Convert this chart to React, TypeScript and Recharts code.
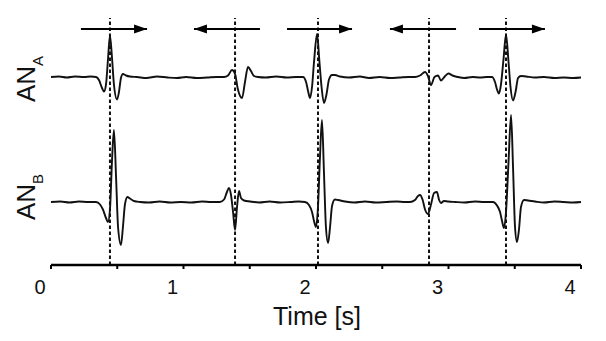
import { LineChart, Line, XAxis, YAxis, ReferenceLine, Customized } from 'recharts';

// time [s] and amplitude (arbitrary units, baseline = 0)
const anaTrace: [number, number][] = [
  [0, 0], [0.06, 0.01], [0.12, -0.01], [0.18, 0.01], [0.25, 0], [0.3, 0.01],
  [0.34, 0], [0.362, -0.06], [0.385, -0.22], [0.4, -0.29], [0.415, -0.15], [0.43, 0.35], [0.445, 0.83],
  [0.46, 0.4], [0.475, -0.15], [0.498, -0.45], [0.513, -0.3], [0.528, -0.02], [0.543, 0.06], [0.566, 0.03], [0.596, 0.01],
  [0.65, 0], [0.72, -0.02], [0.8, 0.01], [0.88, -0.01], [0.95, -0.02], [1.02, 0], [1.1, -0.02], [1.18, -0.01], [1.25, 0],
  [1.306, 0], [1.336, 0.03], [1.366, 0.14], [1.389, 0.06], [1.411, -0.25], [1.442, -0.42], [1.464, -0.1],
  [1.487, 0.2], [1.509, 0.12], [1.532, 0.02], [1.562, 0],
  [1.62, -0.01], [1.7, 0.01], [1.78, -0.01], [1.85, 0],
  [1.902, 0], [1.925, -0.1], [1.94, -0.28], [1.955, -0.42], [1.97, -0.2], [1.985, 0.3], [2.008, 0.86],
  [2.026, 0.3], [2.042, -0.2], [2.06, -0.52], [2.079, -0.35], [2.098, -0.05], [2.121, 0.04], [2.143, 0.04], [2.181, 0.01],
  [2.25, -0.01], [2.33, 0.01], [2.4, -0.02], [2.48, 0], [2.56, -0.02], [2.63, -0.01], [2.7, 0],
  [2.747, 0], [2.785, 0.03], [2.823, 0.1], [2.845, 0.02], [2.868, -0.16], [2.894, 0], [2.921, 0.03],
  [2.943, -0.07], [2.975, 0.02], [3.0, 0.07], [3.03, 0.03], [3.07, 0],
  [3.12, -0.02], [3.18, 0], [3.24, -0.01], [3.29, 0],
  [3.328, 0], [3.351, -0.1], [3.366, -0.25], [3.381, -0.33], [3.396, -0.15], [3.415, 0.35], [3.434, 0.85],
  [3.453, 0.3], [3.468, -0.2], [3.487, -0.47], [3.506, -0.3], [3.525, -0.02], [3.547, 0.02], [3.585, 0.01],
  [3.65, -0.01], [3.72, 0], [3.8, -0.02], [3.87, -0.01], [3.94, -0.02], [4.0, -0.01],
];

const anbTrace: [number, number][] = [
  [0, 0], [0.07, 0.01], [0.14, -0.01], [0.21, 0.01], [0.28, 0],
  [0.34, 0], [0.37, -0.05], [0.392, -0.15], [0.415, -0.32], [0.43, -0.4], [0.445, -0.15], [0.46, 0.8], [0.475, 1.44],
  [0.491, 0.5], [0.506, -0.5], [0.528, -0.86], [0.543, -0.5], [0.558, -0.05], [0.577, 0.1], [0.596, 0.07], [0.626, 0.02], [0.672, 0],
  [0.74, -0.01], [0.82, 0.01], [0.9, -0.01], [0.98, 0], [1.06, -0.01], [1.14, 0.01], [1.21, 0],
  [1.275, 0], [1.306, 0.05], [1.328, 0.2], [1.343, 0.28], [1.358, 0.15], [1.374, -0.2], [1.389, -0.56],
  [1.404, -0.1], [1.419, 0.22], [1.434, 0.08], [1.457, 0.03], [1.502, 0.01],
  [1.57, -0.01], [1.65, 0.01], [1.73, -0.01], [1.81, 0], [1.87, 0.01],
  [1.917, 0], [1.947, -0.06], [1.97, -0.2], [1.985, -0.38], [2.0, -0.5], [2.015, -0.1], [2.03, 0.9], [2.045, 1.64],
  [2.06, 0.6], [2.075, -0.5], [2.091, -0.82], [2.106, -0.5], [2.121, -0.08], [2.143, 0.05], [2.166, 0.04], [2.219, 0.01],
  [2.29, -0.01], [2.37, 0.01], [2.45, -0.01], [2.53, 0], [2.61, 0.01], [2.67, 0],
  [2.709, 0], [2.747, 0.04], [2.77, 0.12], [2.785, 0.14], [2.804, 0.05], [2.823, -0.15], [2.845, -0.24],
  [2.868, -0.05], [2.891, 0.18], [2.913, 0.2], [2.928, 0.05], [2.943, -0.02], [2.966, 0.02], [2.996, 0.01], [3.049, 0],
  [3.12, -0.01], [3.2, 0.01], [3.27, 0],
  [3.336, 0], [3.366, -0.07], [3.389, -0.2], [3.404, -0.38], [3.419, -0.52], [3.434, -0.2], [3.453, 0.8], [3.472, 1.74],
  [3.487, 0.7], [3.502, -0.5], [3.517, -0.8], [3.532, -0.55], [3.547, -0.1], [3.57, 0.04], [3.6, 0.03], [3.653, 0.01],
  [3.72, -0.01], [3.8, 0.01], [3.87, 0], [3.94, -0.01], [4.0, 0],
];

const ANA_OFFSET = 2.5;

// stimulus times (dashed markers)
const eventTimes = [0.445, 1.389, 2.015, 2.853, 3.434];

// direction arrows: tail -> head
const arrowTails = [0.226, 1.577, 1.781, 3.057, 3.23];
const arrowHeads = [0.725, 1.079, 2.272, 2.558, 3.728];
const ARROW_LEVEL = 3.46;

const xTicks = [0, 0.5, 1, 1.5, 2, 2.5, 3, 3.5, 4];

const FONT = '"Liberation Sans", Arial, sans-serif';

const anaData = anaTrace.map(([t, v]) => ({ t, v: v + ANA_OFFSET }));
const anbData = anbTrace.map(([t, v]) => ({ t, v }));

const TimeTick = ({ x, y, payload }: any) => {
  if (!Number.isInteger(payload.value)) return <g />;
  return (
    <text x={x - 11} y={y + 25} textAnchor="middle" fontSize={20} fontFamily={FONT} fill="#111">
      {payload.value}
    </text>
  );
};

const arrowHead = (dir: number) => (props: any) => {
  const { cx, cy, index } = props;
  if (index !== 1) return <g key={`d${index}`} />;
  const back = cx - dir * 13;
  return (
    <polygon
      key={`d${index}`}
      points={`${cx},${cy} ${back},${cy - 4.5} ${back},${cy + 4.5}`}
      fill="#000"
    />
  );
};

const Labels = () => (
  <g fontFamily={FONT} fill="#111">
    <text transform="translate(35,102) rotate(-90)" fontSize={26}>
      AN<tspan fontSize={15} dy={8}>A</tspan>
    </text>
    <text transform="translate(35,220) rotate(-90)" fontSize={26}>
      AN<tspan fontSize={15} dy={8}>B</tspan>
    </text>
    <text x={317} y={325} textAnchor="middle" fontSize={25}>
      Time [s]
    </text>
  </g>
);

export default function App() {
  return (
    <div style={{ position: 'absolute', left: 0, top: 0, width: 606, height: 341, background: '#fff' }}>
      <LineChart width={606} height={341} margin={{ top: 18, right: 25, bottom: 36, left: 51 }}>
        <XAxis
          type="number"
          dataKey="t"
          domain={[0, 4]}
          ticks={xTicks}
          allowDuplicatedCategory={false}
          height={40}
          axisLine={{ stroke: '#000', strokeWidth: 2.5 }}
          tickLine={{ stroke: '#000', strokeWidth: 2 }}
          tickSize={4}
          tickMargin={0}
          tick={<TimeTick />}
        />
        <YAxis type="number" dataKey="v" domain={[-1.26, 3.68]} hide width={0} />

        {eventTimes.map((t) => (
          <ReferenceLine key={t} x={t} stroke="#111" strokeWidth={2} strokeDasharray="3.5 2.5" />
        ))}

        <Line data={anaData} dataKey="v" type="monotone" stroke="#111" strokeWidth={1.9} dot={false} isAnimationActive={false} />
        <Line data={anbData} dataKey="v" type="monotone" stroke="#111" strokeWidth={1.9} dot={false} isAnimationActive={false} />

        {arrowTails.map((tail, i) => (
          <Line
            key={`arrow${i}`}
            data={[
              { t: tail, v: ARROW_LEVEL },
              { t: arrowHeads[i], v: ARROW_LEVEL },
            ]}
            dataKey="v"
            type="linear"
            stroke="#000"
            strokeWidth={2.2}
            dot={arrowHead(Math.sign(arrowHeads[i] - tail))}
            activeDot={false}
            isAnimationActive={false}
          />
        ))}

        <Customized component={Labels} />
      </LineChart>
    </div>
  );
}
